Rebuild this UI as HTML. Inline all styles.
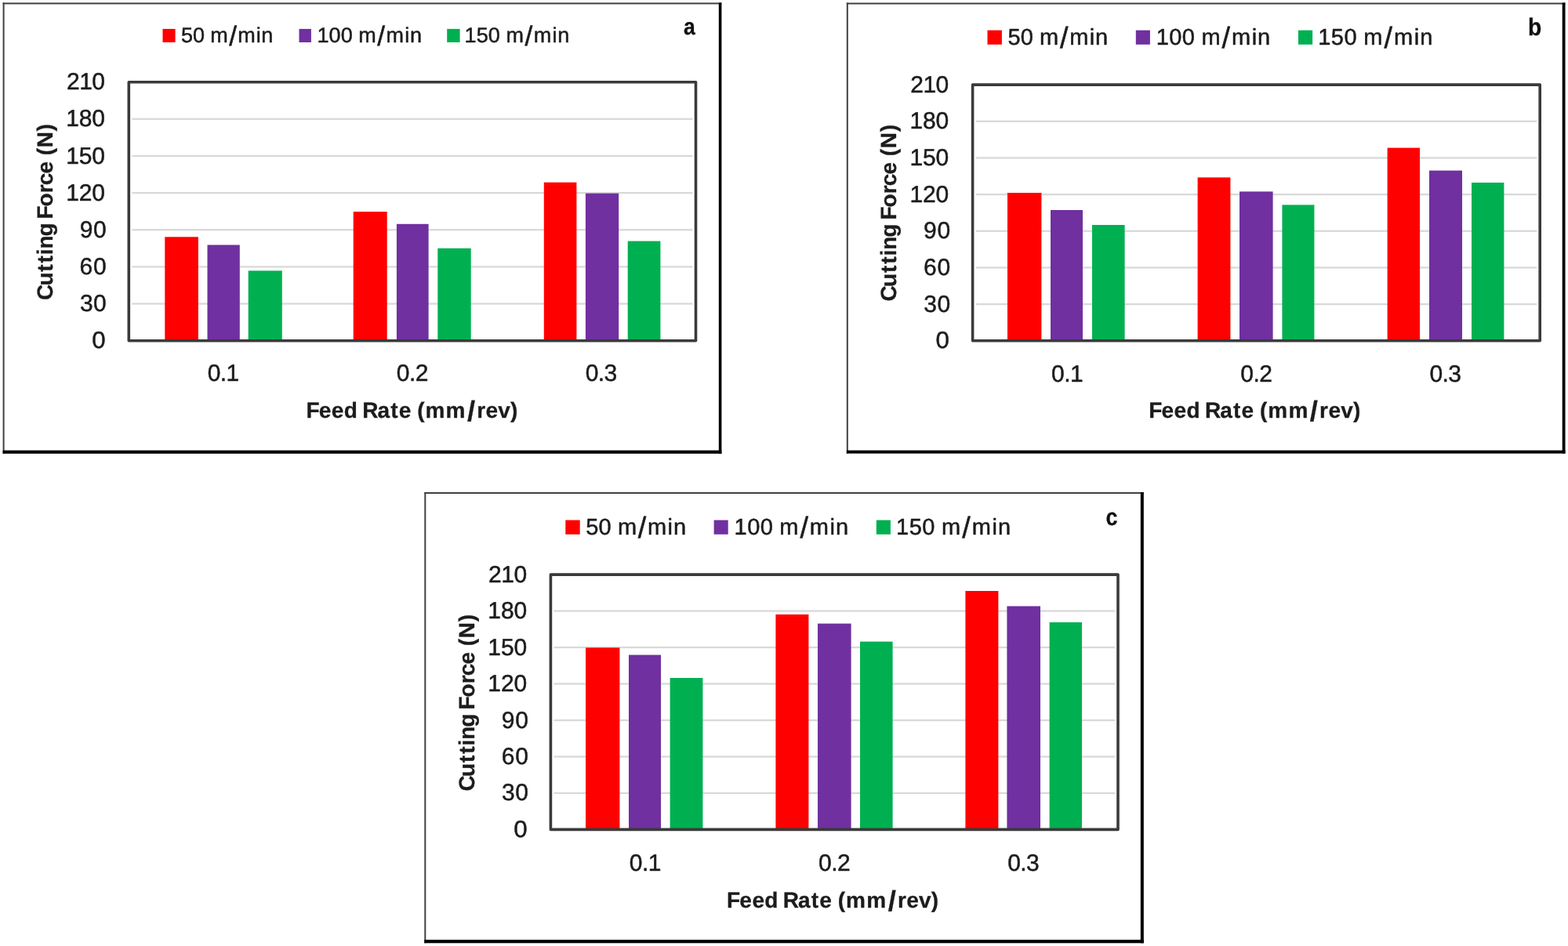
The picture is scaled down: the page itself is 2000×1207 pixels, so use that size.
<!DOCTYPE html>
<html lang="en">
<head>
<meta charset="utf-8">
<title>Cutting force vs feed rate</title>
<style>
html,body{margin:0;padding:0;background:#fff;}
body{width:2000px;height:1207px;overflow:hidden;font-family:"Liberation Sans",sans-serif;}
svg{display:block;}
</style>
</head>
<body>
<svg width="2000" height="1207" viewBox="0 0 2000 1207" font-family="'Liberation Sans', Arial, sans-serif" text-rendering="geometricPrecision">
<rect width="2000" height="1207" fill="#fff"/>
<g>
<rect x="3.60" y="3.40" width="916.80" height="575.40" fill="#fff"/>
<rect x="3.60" y="3.40" width="2" height="575.40" fill="#404040"/>
<rect x="3.60" y="3.40" width="916.80" height="2" fill="#404040"/>
<rect x="916.80" y="3.40" width="3.60" height="575.40" fill="#000"/>
<rect x="3.60" y="574.60" width="916.80" height="4.20" fill="#000"/>
<rect x="168.30" y="386.41" width="715.20" height="2.3" fill="#d9d9d9"/>
<rect x="168.30" y="339.26" width="715.20" height="2.3" fill="#d9d9d9"/>
<rect x="168.30" y="292.12" width="715.20" height="2.3" fill="#d9d9d9"/>
<rect x="168.30" y="244.98" width="715.20" height="2.3" fill="#d9d9d9"/>
<rect x="168.30" y="197.84" width="715.20" height="2.3" fill="#d9d9d9"/>
<rect x="168.30" y="150.69" width="715.20" height="2.3" fill="#d9d9d9"/>
<rect x="210.30" y="302.30" width="42.60" height="132.40" fill="#ff0000"/>
<rect x="264.50" y="312.50" width="41.30" height="122.20" fill="#7030a0"/>
<rect x="316.70" y="345.40" width="43.10" height="89.30" fill="#00b050"/>
<rect x="450.70" y="270.10" width="43.00" height="164.60" fill="#ff0000"/>
<rect x="505.90" y="285.80" width="40.70" height="148.90" fill="#7030a0"/>
<rect x="558.30" y="316.80" width="42.40" height="117.90" fill="#00b050"/>
<rect x="693.80" y="232.70" width="41.60" height="202.00" fill="#ff0000"/>
<rect x="746.90" y="246.70" width="42.30" height="188.00" fill="#7030a0"/>
<rect x="800.70" y="307.60" width="41.70" height="127.10" fill="#00b050"/>
<rect x="164.30" y="104.70" width="723.20" height="330.00" fill="none" stroke="#3a3a3a" stroke-width="3.6" stroke-linejoin="round"/>
<text transform="translate(117.25 444.24) scale(1.0417 1)" font-size="30.0" stroke="#1c1c1c" stroke-width="0.5" stroke-linejoin="round" fill="#1c1c1c">0</text>
<text x="101.90 119.10" y="397.10" font-size="30.0" stroke="#1c1c1c" stroke-width="0.5" stroke-linejoin="round" fill="#1c1c1c">30</text>
<text x="101.60 119.10" y="349.95" font-size="30.0" stroke="#1c1c1c" stroke-width="0.5" stroke-linejoin="round" fill="#1c1c1c">60</text>
<text x="101.75 119.10" y="302.81" font-size="30.0" stroke="#1c1c1c" stroke-width="0.5" stroke-linejoin="round" fill="#1c1c1c">90</text>
<text x="84.25 100.78 117.30" y="255.67" font-size="30.0" stroke="#1c1c1c" stroke-width="0.5" stroke-linejoin="round" fill="#1c1c1c">120</text>
<text x="84.25 100.78 117.30" y="208.53" font-size="30.0" stroke="#1c1c1c" stroke-width="0.5" stroke-linejoin="round" fill="#1c1c1c">150</text>
<text x="84.25 100.78 117.30" y="161.38" font-size="30.0" stroke="#1c1c1c" stroke-width="0.5" stroke-linejoin="round" fill="#1c1c1c">180</text>
<text x="85.00 101.15 117.30" y="114.24" font-size="30.0" stroke="#1c1c1c" stroke-width="0.5" stroke-linejoin="round" fill="#1c1c1c">210</text>
<text x="264.63 280.76 288.53" y="486.00" font-size="30.0" stroke="#1c1c1c" stroke-width="0.5" stroke-linejoin="round" fill="#1c1c1c">0.1</text>
<text x="505.70 521.90 529.75" y="486.00" font-size="30.0" stroke="#1c1c1c" stroke-width="0.5" stroke-linejoin="round" fill="#1c1c1c">0.2</text>
<text x="746.77 762.82 770.52" y="486.00" font-size="30.0" stroke="#1c1c1c" stroke-width="0.5" stroke-linejoin="round" fill="#1c1c1c">0.3</text>
<text x="390.48 406.70 422.86 438.80 455.72 462.18 481.49 498.13 508.66 524.27 532.13 542.42 568.56 595.92 608.14 619.59 635.28 651.02" y="533.00" font-size="28.0" font-weight="700" stroke="#1c1c1c" stroke-width="0.3" stroke-linejoin="round" fill="#1c1c1c">Feed Rate (mm<tspan font-size="36.40" dy="4.48">/</tspan><tspan dy="-4.48">rev)</tspan></text>
<text transform="translate(67.10 382.00) rotate(-90)" x="-1.12 17.42 35.38 46.44 56.65 64.45 80.55 96.36 102.60 118.46 135.77 145.75 160.41 175.91 183.70 193.71 214.62" y="0" font-size="28.0" font-weight="700" stroke="#1c1c1c" stroke-width="0.3" stroke-linejoin="round" fill="#1c1c1c">Cutting Force (N)</text>
<rect x="207.50" y="36.90" width="16.10" height="17.10" fill="#ff0000"/>
<text x="231.12 246.09 260.67 268.31 292.17 303.30 326.73 333.37" y="53.70" font-size="27.0" stroke="#1c1c1c" stroke-width="0.5" stroke-linejoin="round" fill="#1c1c1c">50 m<tspan font-size="35.10" dy="4.32">/</tspan><tspan dy="-4.32">min</tspan></text>
<rect x="381.50" y="36.90" width="15.40" height="17.10" fill="#7030a0"/>
<text x="404.48 419.61 434.74 449.43 457.24 481.30 492.61 516.21 522.97" y="53.70" font-size="27.0" stroke="#1c1c1c" stroke-width="0.5" stroke-linejoin="round" fill="#1c1c1c">100 m<tspan font-size="35.10" dy="4.32">/</tspan><tspan dy="-4.32">min</tspan></text>
<rect x="570.20" y="36.90" width="16.40" height="17.10" fill="#00b050"/>
<text x="592.58 607.72 622.86 637.57 645.38 669.46 680.79 704.40 711.17" y="53.70" font-size="27.0" stroke="#1c1c1c" stroke-width="0.5" stroke-linejoin="round" fill="#1c1c1c">150 m<tspan font-size="35.10" dy="4.32">/</tspan><tspan dy="-4.32">min</tspan></text>
<text transform="translate(872.10 44.10) scale(0.8967 1)" font-size="29.6" font-weight="700" stroke="#111" stroke-width="0.3" stroke-linejoin="round" fill="#111">a</text>
<rect x="1079.80" y="3.50" width="916.70" height="575.10" fill="#fff"/>
<rect x="1079.80" y="3.50" width="2" height="575.10" fill="#404040"/>
<rect x="1079.80" y="3.50" width="916.70" height="2" fill="#404040"/>
<rect x="1992.70" y="3.50" width="3.80" height="575.10" fill="#000"/>
<rect x="1079.80" y="574.60" width="916.70" height="4.00" fill="#000"/>
<rect x="1244.60" y="386.98" width="715.60" height="2.3" fill="#d9d9d9"/>
<rect x="1244.60" y="340.31" width="715.60" height="2.3" fill="#d9d9d9"/>
<rect x="1244.60" y="293.64" width="715.60" height="2.3" fill="#d9d9d9"/>
<rect x="1244.60" y="246.96" width="715.60" height="2.3" fill="#d9d9d9"/>
<rect x="1244.60" y="200.29" width="715.60" height="2.3" fill="#d9d9d9"/>
<rect x="1244.60" y="153.62" width="715.60" height="2.3" fill="#d9d9d9"/>
<rect x="1285.00" y="246.00" width="43.40" height="188.80" fill="#ff0000"/>
<rect x="1340.00" y="268.00" width="41.00" height="166.80" fill="#7030a0"/>
<rect x="1393.00" y="287.00" width="41.60" height="147.80" fill="#00b050"/>
<rect x="1527.60" y="226.40" width="41.80" height="208.40" fill="#ff0000"/>
<rect x="1581.00" y="244.40" width="42.60" height="190.40" fill="#7030a0"/>
<rect x="1635.40" y="261.40" width="41.00" height="173.40" fill="#00b050"/>
<rect x="1769.60" y="188.60" width="41.40" height="246.20" fill="#ff0000"/>
<rect x="1823.00" y="217.60" width="42.00" height="217.20" fill="#7030a0"/>
<rect x="1877.00" y="233.00" width="41.40" height="201.80" fill="#00b050"/>
<rect x="1240.60" y="108.10" width="723.60" height="326.70" fill="none" stroke="#3a3a3a" stroke-width="3.6" stroke-linejoin="round"/>
<text transform="translate(1193.55 444.34) scale(1.0417 1)" font-size="30.0" stroke="#1c1c1c" stroke-width="0.5" stroke-linejoin="round" fill="#1c1c1c">0</text>
<text x="1178.20 1195.40" y="397.67" font-size="30.0" stroke="#1c1c1c" stroke-width="0.5" stroke-linejoin="round" fill="#1c1c1c">30</text>
<text x="1177.90 1195.40" y="351.00" font-size="30.0" stroke="#1c1c1c" stroke-width="0.5" stroke-linejoin="round" fill="#1c1c1c">60</text>
<text x="1178.05 1195.40" y="304.33" font-size="30.0" stroke="#1c1c1c" stroke-width="0.5" stroke-linejoin="round" fill="#1c1c1c">90</text>
<text x="1160.55 1177.07 1193.60" y="257.65" font-size="30.0" stroke="#1c1c1c" stroke-width="0.5" stroke-linejoin="round" fill="#1c1c1c">120</text>
<text x="1160.55 1177.07 1193.60" y="210.98" font-size="30.0" stroke="#1c1c1c" stroke-width="0.5" stroke-linejoin="round" fill="#1c1c1c">150</text>
<text x="1160.55 1177.07 1193.60" y="164.31" font-size="30.0" stroke="#1c1c1c" stroke-width="0.5" stroke-linejoin="round" fill="#1c1c1c">180</text>
<text x="1161.30 1177.45 1193.60" y="117.64" font-size="30.0" stroke="#1c1c1c" stroke-width="0.5" stroke-linejoin="round" fill="#1c1c1c">210</text>
<text x="1341.00 1357.13 1364.90" y="486.80" font-size="30.0" stroke="#1c1c1c" stroke-width="0.5" stroke-linejoin="round" fill="#1c1c1c">0.1</text>
<text x="1582.20 1598.40 1606.25" y="486.80" font-size="30.0" stroke="#1c1c1c" stroke-width="0.5" stroke-linejoin="round" fill="#1c1c1c">0.2</text>
<text x="1823.40 1839.45 1847.15" y="486.80" font-size="30.0" stroke="#1c1c1c" stroke-width="0.5" stroke-linejoin="round" fill="#1c1c1c">0.3</text>
<text x="1465.18 1481.42 1497.60 1513.56 1530.50 1536.97 1556.29 1572.95 1583.50 1599.12 1606.99 1617.30 1643.47 1670.86 1683.09 1694.56 1710.27 1726.02" y="533.00" font-size="28.0" font-weight="700" stroke="#1c1c1c" stroke-width="0.3" stroke-linejoin="round" fill="#1c1c1c">Feed Rate (mm<tspan font-size="36.40" dy="4.48">/</tspan><tspan dy="-4.48">rev)</tspan></text>
<text transform="translate(1143.40 383.40) rotate(-90)" x="-1.12 17.46 35.47 46.56 56.80 64.63 80.77 96.62 102.89 118.79 136.15 146.16 160.86 176.40 184.21 194.27 215.22" y="0" font-size="28.0" font-weight="700" stroke="#1c1c1c" stroke-width="0.3" stroke-linejoin="round" fill="#1c1c1c">Cutting Force (N)</text>
<rect x="1259.50" y="38.60" width="18.40" height="18.20" fill="#ff0000"/>
<text x="1285.44 1301.78 1317.64 1326.11 1352.06 1364.32 1389.76 1397.09" y="56.50" font-size="29.0" stroke="#1c1c1c" stroke-width="0.5" stroke-linejoin="round" fill="#1c1c1c">50 m<tspan font-size="37.70" dy="4.64">/</tspan><tspan dy="-4.64">min</tspan></text>
<rect x="1448.80" y="38.60" width="18.10" height="18.20" fill="#7030a0"/>
<text x="1474.83 1491.33 1507.84 1523.81 1532.45 1558.58 1571.04 1596.64 1604.09" y="56.50" font-size="29.0" stroke="#1c1c1c" stroke-width="0.5" stroke-linejoin="round" fill="#1c1c1c">100 m<tspan font-size="37.70" dy="4.64">/</tspan><tspan dy="-4.64">min</tspan></text>
<rect x="1656.00" y="38.60" width="18.10" height="18.20" fill="#00b050"/>
<text x="1681.23 1697.83 1714.44 1730.49 1739.23 1765.49 1778.06 1803.76 1811.29" y="56.50" font-size="29.0" stroke="#1c1c1c" stroke-width="0.5" stroke-linejoin="round" fill="#1c1c1c">150 m<tspan font-size="37.70" dy="4.64">/</tspan><tspan dy="-4.64">min</tspan></text>
<text transform="translate(1949.06 44.80) scale(0.9134 1)" font-size="31.0" font-weight="700" stroke="#111" stroke-width="0.3" stroke-linejoin="round" fill="#111">b</text>
<rect x="541.30" y="628.00" width="917.50" height="575.30" fill="#fff"/>
<rect x="541.30" y="628.00" width="2" height="575.30" fill="#404040"/>
<rect x="541.30" y="628.00" width="917.50" height="2" fill="#404040"/>
<rect x="1454.80" y="628.00" width="4.00" height="575.30" fill="#000"/>
<rect x="541.30" y="1199.00" width="917.50" height="4.30" fill="#000"/>
<rect x="706.40" y="1010.78" width="715.60" height="2.3" fill="#d9d9d9"/>
<rect x="706.40" y="964.31" width="715.60" height="2.3" fill="#d9d9d9"/>
<rect x="706.40" y="917.84" width="715.60" height="2.3" fill="#d9d9d9"/>
<rect x="706.40" y="871.36" width="715.60" height="2.3" fill="#d9d9d9"/>
<rect x="706.40" y="824.89" width="715.60" height="2.3" fill="#d9d9d9"/>
<rect x="706.40" y="778.42" width="715.60" height="2.3" fill="#d9d9d9"/>
<rect x="747.00" y="826.40" width="43.40" height="232.00" fill="#ff0000"/>
<rect x="802.00" y="835.60" width="41.00" height="222.80" fill="#7030a0"/>
<rect x="854.60" y="865.00" width="41.80" height="193.40" fill="#00b050"/>
<rect x="989.40" y="784.00" width="42.00" height="274.40" fill="#ff0000"/>
<rect x="1043.00" y="795.60" width="42.60" height="262.80" fill="#7030a0"/>
<rect x="1097.00" y="818.60" width="41.60" height="239.80" fill="#00b050"/>
<rect x="1231.40" y="754.00" width="42.00" height="304.40" fill="#ff0000"/>
<rect x="1284.40" y="773.40" width="42.60" height="285.00" fill="#7030a0"/>
<rect x="1338.60" y="794.00" width="41.40" height="264.40" fill="#00b050"/>
<rect x="702.40" y="733.10" width="723.60" height="325.30" fill="none" stroke="#3a3a3a" stroke-width="3.6" stroke-linejoin="round"/>
<text transform="translate(655.35 1067.94) scale(1.0417 1)" font-size="30.0" stroke="#1c1c1c" stroke-width="0.5" stroke-linejoin="round" fill="#1c1c1c">0</text>
<text x="640.00 657.20" y="1021.47" font-size="30.0" stroke="#1c1c1c" stroke-width="0.5" stroke-linejoin="round" fill="#1c1c1c">30</text>
<text x="639.70 657.20" y="975.00" font-size="30.0" stroke="#1c1c1c" stroke-width="0.5" stroke-linejoin="round" fill="#1c1c1c">60</text>
<text x="639.85 657.20" y="928.53" font-size="30.0" stroke="#1c1c1c" stroke-width="0.5" stroke-linejoin="round" fill="#1c1c1c">90</text>
<text x="622.35 638.88 655.40" y="882.05" font-size="30.0" stroke="#1c1c1c" stroke-width="0.5" stroke-linejoin="round" fill="#1c1c1c">120</text>
<text x="622.35 638.88 655.40" y="835.58" font-size="30.0" stroke="#1c1c1c" stroke-width="0.5" stroke-linejoin="round" fill="#1c1c1c">150</text>
<text x="622.35 638.88 655.40" y="789.11" font-size="30.0" stroke="#1c1c1c" stroke-width="0.5" stroke-linejoin="round" fill="#1c1c1c">180</text>
<text x="623.10 639.25 655.40" y="742.64" font-size="30.0" stroke="#1c1c1c" stroke-width="0.5" stroke-linejoin="round" fill="#1c1c1c">210</text>
<text x="802.80 818.93 826.70" y="1110.80" font-size="30.0" stroke="#1c1c1c" stroke-width="0.5" stroke-linejoin="round" fill="#1c1c1c">0.1</text>
<text x="1044.00 1060.20 1068.05" y="1110.80" font-size="30.0" stroke="#1c1c1c" stroke-width="0.5" stroke-linejoin="round" fill="#1c1c1c">0.2</text>
<text x="1285.20 1301.25 1308.95" y="1110.80" font-size="30.0" stroke="#1c1c1c" stroke-width="0.5" stroke-linejoin="round" fill="#1c1c1c">0.3</text>
<text x="926.98 943.22 959.40 975.36 992.30 998.77 1018.09 1034.75 1045.30 1060.92 1068.79 1079.10 1105.27 1132.66 1144.89 1156.36 1172.07 1187.82" y="1158.00" font-size="28.0" font-weight="700" stroke="#1c1c1c" stroke-width="0.3" stroke-linejoin="round" fill="#1c1c1c">Feed Rate (mm<tspan font-size="36.40" dy="4.48">/</tspan><tspan dy="-4.48">rev)</tspan></text>
<text transform="translate(605.20 1008.40) rotate(-90)" x="-1.12 17.46 35.47 46.56 56.80 64.63 80.77 96.62 102.89 118.79 136.15 146.16 160.86 176.40 184.21 194.27 215.22" y="0" font-size="28.0" font-weight="700" stroke="#1c1c1c" stroke-width="0.3" stroke-linejoin="round" fill="#1c1c1c">Cutting Force (N)</text>
<rect x="721.30" y="663.60" width="18.40" height="18.20" fill="#ff0000"/>
<text x="747.24 763.58 779.44 787.91 813.86 826.12 851.56 858.89" y="681.50" font-size="29.0" stroke="#1c1c1c" stroke-width="0.5" stroke-linejoin="round" fill="#1c1c1c">50 m<tspan font-size="37.70" dy="4.64">/</tspan><tspan dy="-4.64">min</tspan></text>
<rect x="910.60" y="663.60" width="18.10" height="18.20" fill="#7030a0"/>
<text x="936.62 953.13 969.64 985.61 994.25 1020.38 1032.84 1058.44 1065.89" y="681.50" font-size="29.0" stroke="#1c1c1c" stroke-width="0.5" stroke-linejoin="round" fill="#1c1c1c">100 m<tspan font-size="37.70" dy="4.64">/</tspan><tspan dy="-4.64">min</tspan></text>
<rect x="1117.80" y="663.60" width="18.10" height="18.20" fill="#00b050"/>
<text x="1143.03 1159.63 1176.24 1192.29 1201.03 1227.29 1239.86 1265.56 1273.09" y="681.50" font-size="29.0" stroke="#1c1c1c" stroke-width="0.5" stroke-linejoin="round" fill="#1c1c1c">150 m<tspan font-size="37.70" dy="4.64">/</tspan><tspan dy="-4.64">min</tspan></text>
<text transform="translate(1410.52 669.50) scale(0.8944 1)" font-size="30.2" font-weight="700" stroke="#111" stroke-width="0.3" stroke-linejoin="round" fill="#111">c</text>
</g>
</svg>
</body>
</html>
